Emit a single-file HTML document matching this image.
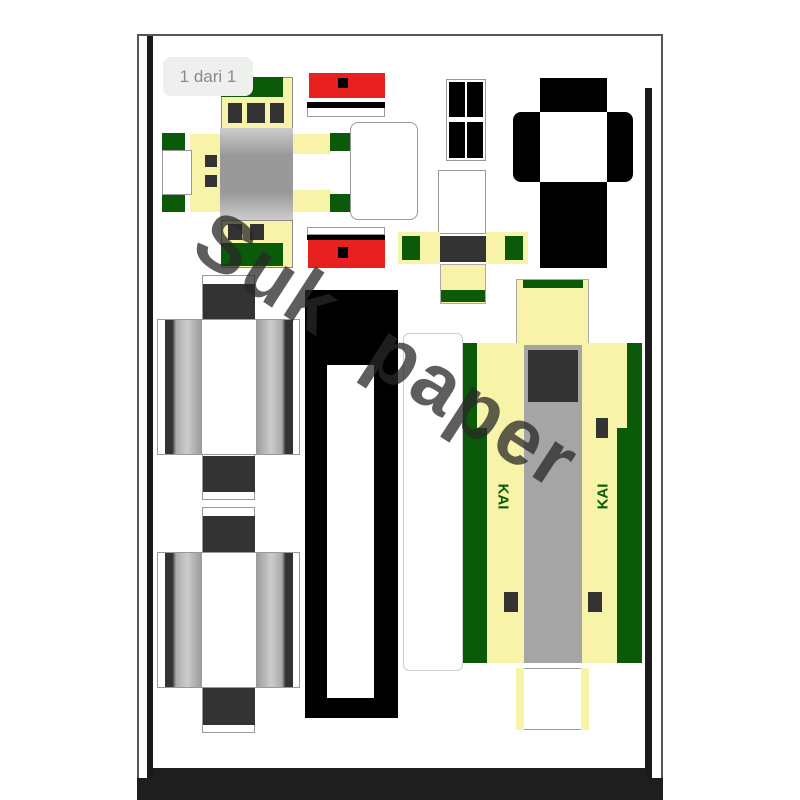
<!DOCTYPE html>
<html><head><meta charset="utf-8"><style>
*{margin:0;padding:0;box-sizing:border-box}
body{width:800px;height:800px;background:#fff;position:relative;overflow:hidden;font-family:"Liberation Sans",sans-serif}
.a{position:absolute}
.o{position:absolute;border:1px solid #999;background:#fff}
.bk{position:absolute;background:#000}
.dk{position:absolute;background:#333}
.y{position:absolute;background:#f7f3a8}
.g{position:absolute;background:#0a5a0a}
.gr{position:absolute;background:#aaa}
.r{position:absolute;background:#e82020}
</style></head><body>
<div class="a" style="left:137px;top:34px;width:526px;height:766px;border:2px solid #555;border-bottom:none;background:#fff"></div>
<div class="bk" style="left:147px;top:36px;width:6px;height:742px;background:#1a1a1a"></div>
<div class="bk" style="left:645px;top:88px;width:7px;height:690px;background:#1a1a1a"></div>
<div class="bk" style="left:153px;top:768px;width:494px;height:10px;background:#1e1e1e"></div>
<div class="bk" style="left:137px;top:778px;width:526px;height:22px;background:#1e1e1e"></div>

<div class="y" style="left:221px;top:77px;width:72px;height:56px;border:1px solid #888"></div>
<div class="g" style="left:221px;top:77px;width:62px;height:20px"></div>
<div class="dk" style="left:228px;top:103px;width:14px;height:20px"></div>
<div class="dk" style="left:247px;top:103px;width:18px;height:20px"></div>
<div class="dk" style="left:270px;top:103px;width:14px;height:20px"></div>
<div class="gr" style="left:220px;top:128px;width:73px;height:92px;background:linear-gradient(#ccc,#999 30%,#999 70%,#ccc)"></div>
<div class="y" style="left:190px;top:134px;width:30px;height:78px"></div>
<div class="o" style="left:162px;top:150px;width:30px;height:45px"></div>
<div class="g" style="left:162px;top:133px;width:23px;height:17px"></div>
<div class="g" style="left:162px;top:195px;width:23px;height:17px"></div>
<div class="dk" style="left:205px;top:155px;width:12px;height:12px"></div>
<div class="dk" style="left:205px;top:175px;width:12px;height:12px"></div>
<div class="y" style="left:293px;top:134px;width:38px;height:20px"></div>
<div class="y" style="left:293px;top:190px;width:38px;height:22px"></div>
<div class="g" style="left:330px;top:133px;width:22px;height:18px"></div>
<div class="g" style="left:330px;top:194px;width:22px;height:18px"></div>
<div class="o" style="left:350px;top:122px;width:68px;height:98px;border-radius:8px"></div>
<div class="y" style="left:221px;top:220px;width:72px;height:48px;border:1px solid #888"></div>
<div class="g" style="left:221px;top:243px;width:62px;height:23px"></div>
<div class="dk" style="left:228px;top:224px;width:14px;height:16px"></div>
<div class="dk" style="left:250px;top:224px;width:14px;height:16px"></div>
<div class="a" style="left:163px;top:57px;width:90px;height:39px;background:#eef0ee;border-radius:8px;color:#8a8a8a;font-size:17px;line-height:39px;text-align:center">1 dari 1</div>

<div class="r" style="left:309px;top:73px;width:76px;height:25px"></div>
<div class="bk" style="left:338px;top:78px;width:10px;height:10px"></div>
<div class="bk" style="left:307px;top:102px;width:78px;height:6px"></div>
<div class="o" style="left:307px;top:108px;width:78px;height:9px;border-top:none"></div>
<div class="o" style="left:307px;top:227px;width:78px;height:8px"></div>
<div class="bk" style="left:307px;top:235px;width:78px;height:5px"></div>
<div class="r" style="left:308px;top:240px;width:77px;height:28px"></div>
<div class="bk" style="left:338px;top:247px;width:10px;height:11px"></div>

<div class="o" style="left:447px;top:80px;width:38px;height:80px;background:#000;border:2px solid #fff;outline:1px solid #999"></div>
<div class="a" style="left:465px;top:80px;width:2px;height:80px;background:#fff"></div>
<div class="a" style="left:447px;top:117px;width:38px;height:5px;background:#fff"></div>

<div class="bk" style="left:540px;top:78px;width:67px;height:190px"></div>
<div class="bk" style="left:513px;top:112px;width:120px;height:70px;border-radius:8px"></div>
<div class="a" style="left:540px;top:112px;width:67px;height:70px;background:#fff"></div>

<div class="o" style="left:438px;top:170px;width:48px;height:64px"></div>
<div class="y" style="left:398px;top:232px;width:42px;height:32px"></div>
<div class="g" style="left:402px;top:236px;width:18px;height:24px"></div>
<div class="y" style="left:486px;top:232px;width:42px;height:32px"></div>
<div class="g" style="left:505px;top:236px;width:18px;height:24px"></div>
<div class="dk" style="left:440px;top:236px;width:46px;height:26px"></div>
<div class="y" style="left:440px;top:264px;width:46px;height:40px;border:1px solid #aaa"></div>
<div class="g" style="left:441px;top:290px;width:44px;height:12px"></div>

<div class="o" style="left:202px;top:275px;width:53px;height:225px"></div>
<div class="dk" style="left:203px;top:284px;width:52px;height:35px"></div>
<div class="dk" style="left:203px;top:456px;width:52px;height:36px"></div>
<div class="o" style="left:157px;top:319px;width:143px;height:136px"></div>
<div class="a" style="left:165px;top:320px;width:37px;height:134px;background:linear-gradient(90deg,#333 20%,#aaa 30%,#ccc 60%,#999)"></div>
<div class="a" style="left:256px;top:320px;width:37px;height:134px;background:linear-gradient(90deg,#999,#ccc 40%,#aaa 70%,#333 80%)"></div>
<div class="o" style="left:202px;top:507px;width:53px;height:226px"></div>
<div class="dk" style="left:203px;top:516px;width:52px;height:36px"></div>
<div class="dk" style="left:203px;top:688px;width:52px;height:37px"></div>
<div class="o" style="left:157px;top:552px;width:143px;height:136px"></div>
<div class="a" style="left:165px;top:553px;width:37px;height:134px;background:linear-gradient(90deg,#333 20%,#aaa 30%,#ccc 60%,#999)"></div>
<div class="a" style="left:256px;top:553px;width:37px;height:134px;background:linear-gradient(90deg,#999,#ccc 40%,#aaa 70%,#333 80%)"></div>

<div class="bk" style="left:305px;top:290px;width:93px;height:428px"></div>
<div class="a" style="left:327px;top:365px;width:47px;height:333px;background:#fff"></div>

<div class="o" style="left:403px;top:333px;width:60px;height:338px;border-radius:6px;border-color:#ccc"></div>

<div class="y" style="left:516px;top:279px;width:73px;height:66px;border:1px solid #aaa"></div>
<div class="g" style="left:523px;top:280px;width:60px;height:8px"></div>
<div class="y" style="left:463px;top:343px;width:179px;height:320px"></div>
<div class="g" style="left:463px;top:343px;width:24px;height:320px"></div>
<div class="g" style="left:617px;top:343px;width:25px;height:320px"></div>
<div class="y" style="left:477px;top:343px;width:10px;height:85px"></div>
<div class="y" style="left:617px;top:343px;width:10px;height:85px"></div>
<div class="gr" style="left:524px;top:345px;width:58px;height:318px;background:#a5a5a5"></div>
<div class="dk" style="left:528px;top:350px;width:50px;height:52px"></div>
<div class="dk" style="left:596px;top:418px;width:12px;height:20px"></div>
<div class="dk" style="left:504px;top:592px;width:14px;height:20px"></div>
<div class="dk" style="left:588px;top:592px;width:14px;height:20px"></div>
<div class="a" style="left:490px;top:488px;font-size:15px;font-weight:bold;color:#0a5a0a;transform:rotate(90deg)">KAI</div>
<div class="a" style="left:590px;top:488px;font-size:15px;font-weight:bold;color:#0a5a0a;transform:rotate(-90deg)">KAI</div>
<div class="o" style="left:516px;top:668px;width:73px;height:62px"></div>
<div class="y" style="left:516px;top:668px;width:8px;height:62px"></div>
<div class="y" style="left:581px;top:668px;width:8px;height:62px"></div>

<div class="a" style="left:228px;top:192px;font-size:80px;font-weight:bold;color:rgba(40,40,40,0.75);transform-origin:0 0;transform:rotate(33deg);white-space:pre;letter-spacing:3px">Suk  paper</div>
</body></html>
